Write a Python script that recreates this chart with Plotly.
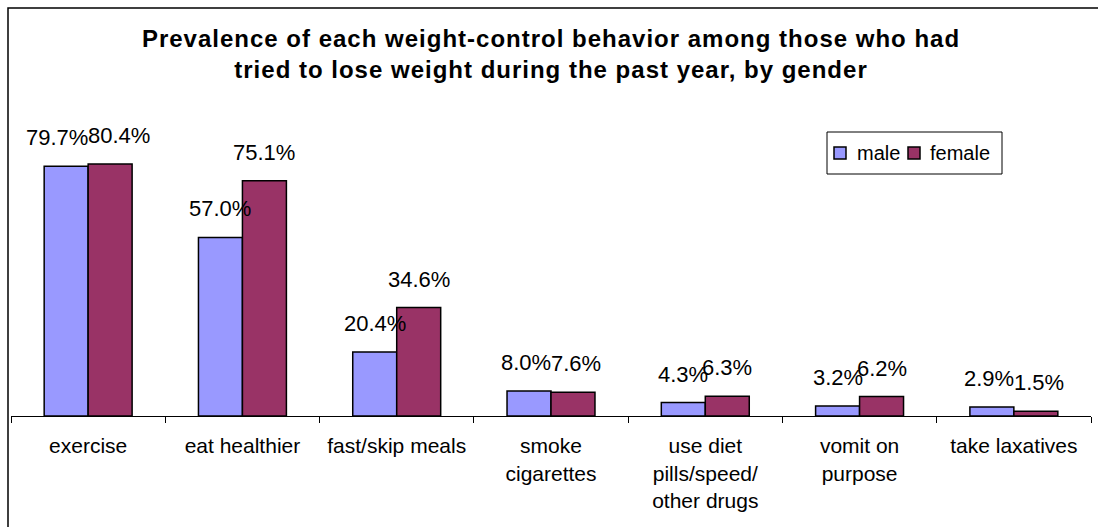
import plotly.graph_objects as go

# Weight-control behaviours among those who tried to lose weight in the past year
categories = [
    "exercise",
    "eat healthier",
    "fast/skip meals",
    "smoke<br>cigarettes",
    "use diet<br>pills/speed/<br>other drugs",
    "vomit on<br>purpose",
    "take laxatives",
]
male = [79.7, 57.0, 20.4, 8.0, 4.3, 3.2, 2.9]
female = [80.4, 75.1, 34.6, 7.6, 6.3, 6.2, 1.5]
series_names = ["male", "female"]
series_colors = ["#9999FF", "#993366"]

W, H = 1098, 527
M_L, M_R, M_T, M_B = 11, 7, 134, 111
Y_MAX = 90
BARGAP = 0.43
FONT = "Liberation Sans, Arial, sans-serif"
LABEL_SIZE = 22

plot_w = W - M_L - M_R
plot_h = H - M_T - M_B
cat_px = plot_w / len(categories)
bar_px = cat_px * (1 - BARGAP) / 2


def px_x(p):
    return (p - M_L) / plot_w


def px_y(p):
    return (H - M_B - p) / plot_h


def label_width(text, size):
    # rough Arial advance widths
    em = {".": 0.278, "%": 0.889}
    return sum(em.get(ch, 0.556) for ch in text) * size


fig = go.Figure()
for name, color, vals in zip(series_names, series_colors, (male, female)):
    fig.add_trace(go.Bar(name=name, x=categories, y=vals, showlegend=False,
                         marker=dict(color=color, line=dict(color="black", width=1.5))))

# value labels above each bar; a side-by-side pair at nearly equal height is eased apart
annotations = []
for cat, m, f in zip(categories, male, female):
    tm, tf = f"{m:.1f}%", f"{f:.1f}%"
    spread = 0.0
    if abs(m - f) < 1.5:
        spread = max(0.0, (label_width(tm, LABEL_SIZE) + label_width(tf, LABEL_SIZE)) / 2 - bar_px) / 2
    for val, txt, shift in ((m, tm, -bar_px / 2 - spread), (f, tf, bar_px / 2 + spread)):
        annotations.append(dict(
            x=cat, y=val, xref="x", yref="y", text=txt,
            showarrow=False, xanchor="center", yanchor="bottom",
            xshift=shift, yshift=14, font=dict(family=FONT, size=LABEL_SIZE, color="black"),
        ))

# legend box
LEG_L, LEG_R, LEG_T, LEG_B = 827, 1002, 132, 174
leg_mid = (LEG_T + LEG_B) / 2
shapes = [dict(type="rect", xref="paper", yref="paper",
               x0=px_x(LEG_L), x1=px_x(LEG_R), y0=px_y(LEG_B), y1=px_y(LEG_T),
               line=dict(color="black", width=1), fillcolor="white", layer="above")]
for name, color, sq_left, txt_left in zip(series_names, series_colors, (834, 908), (855, 928)):
    shapes.append(dict(type="rect", xref="paper", yref="paper",
                       x0=px_x(sq_left), x1=px_x(sq_left + 12),
                       y0=px_y(leg_mid + 6), y1=px_y(leg_mid - 6),
                       line=dict(color="black", width=1.5), fillcolor=color, layer="above"))
    annotations.append(dict(x=px_x(txt_left), y=px_y(leg_mid), xref="paper", yref="paper",
                            text=name, showarrow=False, xanchor="left", yanchor="middle",
                            font=dict(family=FONT, size=20, color="black")))

# outer chart frame
shapes.append(dict(type="rect", xref="paper", yref="paper",
                   x0=px_x(8), x1=px_x(W + 5), y0=px_y(H + 5), y1=px_y(8),
                   line=dict(color="black", width=1.5), fillcolor="rgba(0,0,0,0)", layer="above"))

title_lines = [
    "Prevalence of each weight-control behavior among those who had",
    "tried to lose weight during the past year, by gender",
]
title_text = "<br>".join(
    f"<span style='letter-spacing:1px'><b>{line}</b></span>" for line in title_lines
)

fig.update_layout(
    width=W, height=H,
    margin=dict(l=M_L, r=M_R, t=M_T, b=M_B, pad=0),
    paper_bgcolor="white", plot_bgcolor="white",
    barmode="group", bargap=BARGAP, bargroupgap=0,
    font=dict(family=FONT, size=21, color="black"),
    title=dict(
        text=title_text,
        x=0.5, xanchor="center", xref="paper",
        y=1 - 47 / H, yanchor="top", yref="container",
        font=dict(family=FONT, size=24, color="black"),
    ),
    showlegend=False,
    xaxis=dict(
        showline=True, linecolor="black", linewidth=1,
        ticks="outside", tickson="boundaries", ticklen=6, tickcolor="black",
        ticklabelstandoff=11,
        tickfont=dict(family=FONT, size=21, color="black"),
        showgrid=False, zeroline=False, fixedrange=True,
    ),
    yaxis=dict(range=[0, Y_MAX], visible=False, fixedrange=True),
    shapes=shapes,
    annotations=annotations,
)

fig.write_html("out.html")
